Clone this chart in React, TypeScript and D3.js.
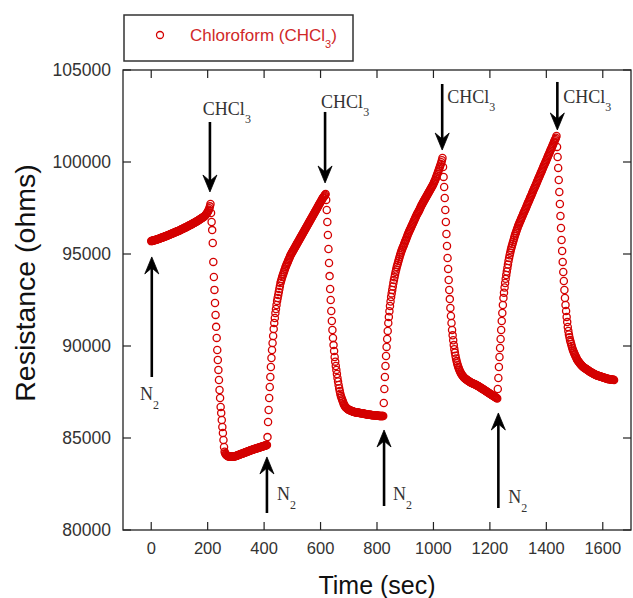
import React from "react";
import * as d3 from "d3";

// Sensor resistance in ohms, logged every SAMPLE_STEP seconds, one array per gas phase
const SAMPLE_STEP = 2;

const purge0 = [
  95700, 95710, 95720, 95730, 95740, 95750, 95750, 95760, 95770, 95780,
  95790, 95800, 95810, 95820, 95830, 95840, 95860, 95870, 95880, 95890,
  95900, 95910, 95920, 95940, 95950, 95960, 95970, 95980, 96000, 96010,
  96020, 96030, 96050, 96060, 96070, 96090, 96100, 96110, 96120, 96140,
  96150, 96160, 96180, 96190, 96200, 96220, 96230, 96240, 96250, 96270,
  96280, 96300, 96310, 96330, 96340, 96360, 96370, 96390, 96400, 96420,
  96430, 96450, 96460, 96480, 96500, 96510, 96530, 96540, 96560, 96570,
  96590, 96610, 96620, 96640, 96660, 96680, 96690, 96710, 96730, 96740,
  96760, 96780, 96800, 96820, 96840, 96860, 96880, 96900, 96920, 96940,
  96960, 96980, 97000, 97020, 97040, 97070, 97110, 97150, 97190, 97230,
  97280, 97340, 97410, 97490, 97590, 97720,
];

const exposure1 = [
  97230, 96740, 96300, 95600, 94570, 93750, 93050, 92340, 91690, 91040,
  90440, 89780, 89240, 88700, 88150, 87610, 87170, 86690, 86360, 85980,
  85600, 85270, 84890, 84510, 84250,
  84170, 84120, 84080, 84050, 84030, 84010, 84000, 83990, 83990, 83980,
  83980, 83980, 83990, 83990, 84000, 84000, 84000, 84010, 84010,
  84020, 84030, 84040, 84060, 84070, 84080, 84090, 84100, 84120, 84130,
  84140, 84150, 84160, 84170, 84190, 84200, 84210, 84220, 84230, 84240,
  84260, 84270, 84280, 84290, 84300,
  84320, 84330, 84340, 84350, 84360, 84370, 84380, 84390, 84400, 84410,
  84420, 84430, 84440, 84450, 84460, 84470, 84480, 84490, 84500, 84510,
  84520, 84530, 84540, 84550, 84560, 84570, 84580, 84590, 84600, 84610,
  84620,
];

const purge1 = [
  85050, 85870, 86520, 87170, 87770, 88320, 88860, 89350, 89780, 90160,
  90540, 90920, 91250, 91520, 91790,
  92010, 92230, 92450, 92610, 92770, 92940, 93100, 93260, 93420,
  93530, 93640, 93750, 93840, 93930, 94020, 94110, 94200, 94290, 94360,
  94440, 94510, 94580, 94660, 94730, 94800, 94880, 94950, 95000, 95060,
  95110,
  95160, 95220, 95270, 95330, 95380, 95440, 95490, 95550, 95600, 95650,
  95710, 95760, 95820, 95870, 95920, 95980, 96030, 96090, 96140, 96200,
  96250, 96300, 96360, 96410, 96470, 96520, 96580, 96630, 96690, 96740,
  96790, 96850, 96900, 96960, 97010, 97070, 97120, 97180, 97230, 97280,
  97340, 97390, 97450, 97500, 97560, 97610, 97670, 97720, 97770, 97830,
  97880, 97940, 97990, 98040, 98080, 98130, 98170, 98220, 98260,
];

const exposure2 = [
  97940, 97390, 96740, 96030, 95270, 94510, 93800, 93100, 92500, 91900,
  91360, 90870, 90440, 90050, 89730, 89400,
  89150, 88910, 88700, 88480, 88260, 88070, 87880, 87710, 87550, 87410,
  87280, 87200, 87110, 87030, 86940, 86850, 86800, 86740, 86690, 86660,
  86630, 86600, 86570, 86550, 86540,
  86520, 86510, 86500, 86480, 86470, 86460, 86450, 86430, 86420, 86410,
  86400, 86400, 86390, 86390, 86380, 86380, 86370, 86370, 86360, 86360,
  86350, 86350, 86340, 86340, 86330, 86330, 86320, 86310, 86310, 86300,
  86290, 86290, 86280, 86280, 86270, 86270, 86260, 86260, 86250, 86250,
  86250, 86240, 86240, 86240, 86230, 86230, 86230, 86220, 86220, 86220,
  86210, 86210, 86210, 86200, 86200, 86200, 86200, 86190, 86190, 86190,
  86190,
];

const purge2 = [
  86900, 87660, 88320, 88910, 89460, 89950, 90380, 90820, 91250,
  91580, 91890, 92170, 92420, 92660, 92860, 93050, 93240, 93420, 93590,
  93740, 93890, 94030, 94160, 94290, 94400, 94510, 94620, 94730, 94840,
  94950, 95040, 95130, 95220, 95300, 95380, 95450, 95530, 95610, 95690,
  95760, 95840, 95930, 96010, 96090, 96160, 96230, 96290, 96360, 96430,
  96500, 96560, 96630, 96700, 96770, 96830, 96900, 96970, 97040, 97100,
  97170, 97220, 97280, 97330, 97390, 97460, 97530, 97590, 97660, 97710,
  97770, 97820, 97880, 97930, 97990, 98040, 98100, 98150, 98210, 98260,
  98320, 98370, 98430, 98480, 98530, 98590, 98640, 98700, 98750, 98820,
  98880, 98950, 99020, 99100, 99180, 99270, 99350, 99440, 99530, 99620,
  99710, 99800, 99890, 99990, 100100, 100220,
];

const exposure3 = [
  99730, 99190, 98640, 98040, 97390, 96740, 96090, 95440, 94780, 94190,
  93590, 93040, 92550, 92070, 91630, 91250, 90870,
  90580, 90310, 90050, 89830, 89640, 89470, 89320, 89180, 89060, 88950,
  88860, 88780, 88700, 88630, 88560, 88500, 88450,
  88410, 88370, 88330, 88290, 88260, 88230, 88210, 88190, 88160, 88140,
  88120, 88100, 88080, 88060, 88040, 88020, 88000, 87990, 87970, 87960,
  87950, 87940, 87920, 87910, 87890, 87880, 87860, 87840, 87830, 87810,
  87790, 87770, 87750, 87730, 87710, 87690, 87670, 87650, 87630, 87610,
  87590, 87570, 87550, 87530, 87510, 87490, 87470, 87450, 87430, 87410,
  87390, 87370, 87350, 87330, 87310, 87290, 87270, 87250, 87230, 87210,
  87190, 87170, 87150,
];

const purge3 = [
  87660, 88260, 88860, 89400, 89890, 90380, 90870, 91360, 91790, 92230,
  92610,
  92900, 93180, 93420, 93650, 93860, 94050, 94240, 94430, 94620, 94780,
  94930, 95070, 95200, 95330, 95440, 95550, 95650, 95760, 95870, 95980,
  96070, 96160, 96250, 96340, 96430, 96520,
  96590, 96660, 96740, 96810, 96880, 96950, 97020, 97090, 97170, 97240,
  97310, 97380, 97450, 97520, 97600, 97670, 97740, 97810, 97880, 97950,
  98030, 98100, 98170, 98240, 98310, 98380, 98460, 98530, 98600, 98670,
  98740, 98810, 98890, 98960, 99030, 99100, 99170, 99240, 99320, 99390,
  99460, 99530, 99600, 99670, 99750, 99820, 99890, 99960, 100030, 100100,
  100180, 100250, 100320, 100390, 100460, 100530, 100610, 100680, 100750, 100820,
  100890, 100960, 101040, 101110, 101180, 101250, 101320, 101410,
];

const exposure4 = [
  100820, 100270, 99680, 99020, 98370, 97720, 97070, 96410, 95760, 95160,
  94570, 94020, 93530, 93040, 92610, 92230, 91900, 91580, 91300, 91030,
  90820,
  90630, 90470, 90330, 90220, 90110, 90000, 89890, 89800, 89710, 89640,
  89570, 89500, 89430, 89370, 89300, 89240, 89200, 89160, 89120, 89080,
  89040,
  89000, 88970, 88930, 88900, 88870, 88850, 88820, 88800, 88780, 88760,
  88740, 88720, 88700, 88680, 88660, 88630, 88610, 88590, 88570, 88560,
  88540, 88520, 88510, 88490, 88470, 88460, 88440, 88420, 88410, 88400,
  88390, 88380, 88370, 88360, 88350, 88340, 88330, 88320, 88310, 88300,
  88290, 88280, 88270, 88260, 88250, 88240, 88230, 88220, 88210, 88200,
  88200, 88190, 88190, 88180, 88180, 88170, 88170, 88160, 88160, 88150,
];

// time (s) of the first sample in each phase
const phaseStarts = [0, 212, 412, 620, 824, 1034, 1228, 1438];
const phaseValues = [purge0, exposure1, purge1, exposure2, purge2, exposure3, purge3, exposure4];

const xTicks = [0, 200, 400, 600, 800, 1000, 1200, 1400, 1600];
const yTicks = [80000, 85000, 90000, 95000, 100000, 105000];

// Gas switching arrows: time, arrow tail and head (ohm), label anchor (time, ohm)
const chcl3Switches = [
  { t: 208, from: 102175, to: 98370, labelT: 183, labelR: 102555 },
  { t: 616, from: 102720, to: 98860, labelT: 602, labelR: 102935 },
  { t: 1031, from: 104240, to: 100650, labelT: 1049, labelR: 103207 },
  { t: 1439, from: 104350, to: 101740, labelT: 1460, labelR: 103207 },
];
const n2Switches = [
  { t: 2, from: 88315, to: 94840, labelT: -40, labelR: 87065 },
  { t: 410, from: 80925, to: 83970, labelT: 446, labelR: 81630 },
  { t: 825, from: 81305, to: 85435, labelT: 857, labelR: 81630 },
  { t: 1230, from: 81195, to: 86360, labelT: 1265, labelR: 81470 },
];

const W = 633;
const H = 598;
const RED = "#d40000";
const SANS = "'Liberation Sans', Arial, sans-serif";
const SERIF = "'Liberation Serif', 'Times New Roman', serif";

function Arrow({ x0, y0, x1, y1 }: { x0: number; y0: number; x1: number; y1: number }) {
  const dir = Math.sign(y1 - y0);
  const head = 17;
  const half = 7;
  const notch = 11;
  const p = `M${x1},${y1} L${x1 - half},${y1 - dir * head} L${x1},${y1 - dir * notch} L${x1 + half},${y1 - dir * head} Z`;
  return (
    <g>
      <line x1={x0} y1={y0} x2={x1} y2={y1 - dir * notch} stroke="#000" strokeWidth={2.6} />
      <path d={p} fill="#000" stroke="#000" strokeWidth={0.8} />
    </g>
  );
}

export default function App() {
  const x = d3.scaleLinear().domain([-100, 1700]).range([123, 631]);
  const y = d3.scaleLinear().domain([80000, 105000]).range([530, 70]);
  const [x0, x1] = x.range();
  const [yb, yt] = y.range();
  const tick = 8;

  const points: [number, number][] = phaseValues.flatMap((vals, p) =>
    vals.map((r, i) => [phaseStarts[p] + i * SAMPLE_STEP, r] as [number, number])
  );

  return (
    <svg
      width={W}
      height={H}
      viewBox={`0 0 ${W} ${H}`}
      style={{ position: "absolute", left: 0, top: 0, background: "#fff" }}
    >
      <rect x={0} y={0} width={W} height={H} fill="#fff" />

      {/* legend */}
      <rect x={124} y={15} width={229} height={46} fill="#fff" stroke="#333" strokeWidth={1.5} />
      <circle cx={160} cy={35} r={3.5} fill="none" stroke={RED} strokeWidth={1.3} />
      <text x={190} y={41} fontFamily={SANS} fontSize={17} fill="#d02828">
        Chloroform (CHCl
        <tspan fontSize={11} dy={7}>3</tspan>
        <tspan dy={-7}>)</tspan>
      </text>

      {/* frame */}
      <rect x={x0} y={yt} width={x1 - x0} height={yb - yt} fill="none" stroke="#222" strokeWidth={1.3} />

      {/* x ticks, inward on bottom and top */}
      {xTicks.map((v) => (
        <g key={`xt${v}`}>
          <line x1={x(v)} x2={x(v)} y1={yb} y2={yb - tick} stroke="#222" strokeWidth={1.2} />
          <line x1={x(v)} x2={x(v)} y1={yt} y2={yt + tick} stroke="#222" strokeWidth={1.2} />
          <text x={x(v)} y={554} textAnchor="middle" fontFamily={SANS} fontSize={16.5} fill="#333">
            {v}
          </text>
        </g>
      ))}

      {/* y ticks, inward on left and right */}
      {yTicks.map((v) => (
        <g key={`yt${v}`}>
          <line x1={x0} x2={x0 + tick} y1={y(v)} y2={y(v)} stroke="#222" strokeWidth={1.2} />
          <line x1={x1} x2={x1 - tick} y1={y(v)} y2={y(v)} stroke="#222" strokeWidth={1.2} />
          <text x={111} y={y(v) + 6} textAnchor="end" fontFamily={SANS} fontSize={17.5} fill="#333">
            {v}
          </text>
        </g>
      ))}

      {/* axis titles */}
      <text x={377} y={594} textAnchor="middle" fontFamily={SANS} fontSize={25} fill="#111">
        Time (sec)
      </text>
      <text
        transform={`translate(35,283) rotate(-90)`}
        textAnchor="middle"
        fontFamily={SANS}
        fontSize={28.5}
        fill="#111"
      >
        Resistance (ohms)
      </text>

      {/* measured points */}
      <g>
        {points.map(([t, r], i) => (
          <circle key={i} cx={x(t)} cy={y(r)} r={3.6} fill="none" stroke={RED} strokeWidth={1.3} />
        ))}
      </g>

      {/* gas switching annotations */}
      {chcl3Switches.map((s, i) => (
        <g key={`c${i}`}>
          <Arrow x0={x(s.t)} y0={y(s.from)} x1={x(s.t)} y1={y(s.to)} />
          <text x={x(s.labelT)} y={y(s.labelR)} fontFamily={SERIF} fontSize={18} fill="#333">
            CHCl
            <tspan fontSize={12} dy={8}>3</tspan>
          </text>
        </g>
      ))}
      {n2Switches.map((s, i) => (
        <g key={`n${i}`}>
          <Arrow x0={x(s.t)} y0={y(s.from)} x1={x(s.t)} y1={y(s.to)} />
          <text x={x(s.labelT)} y={y(s.labelR)} fontFamily={SERIF} fontSize={18} fill="#333">
            N
            <tspan fontSize={12} dy={9}>2</tspan>
          </text>
        </g>
      ))}
    </svg>
  );
}
